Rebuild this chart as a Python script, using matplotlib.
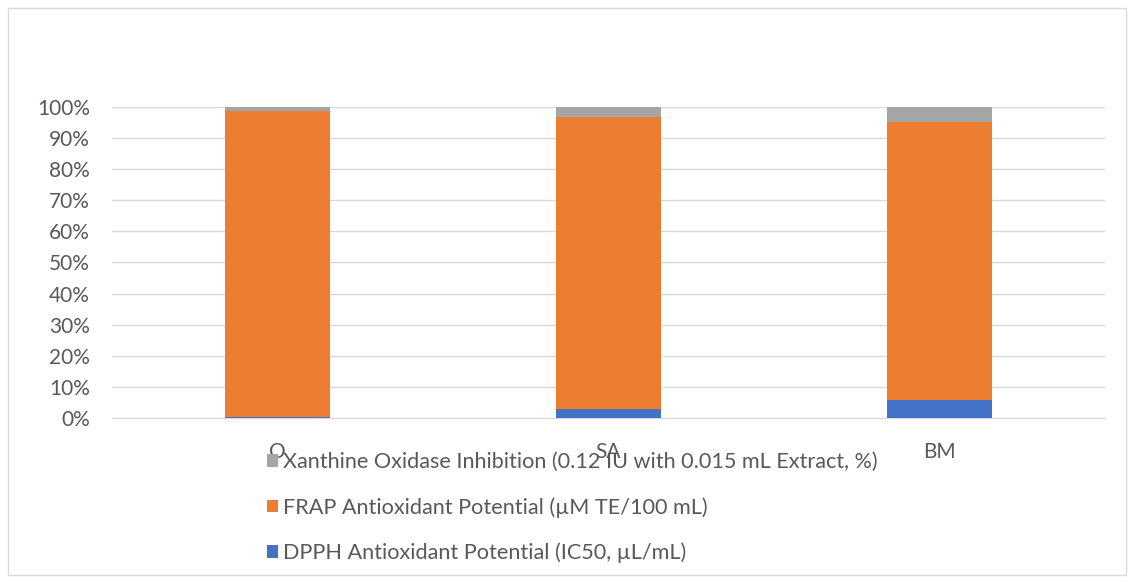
import matplotlib.pyplot as plt
from matplotlib.patches import Rectangle
import numpy as np

# data
categories = ["O", "SA", "BM"]
dpph = [0.2, 3.0, 5.9]
frap = [98.5, 93.7, 89.3]
xanthine = [1.3, 3.3, 4.8]

labels = [
    "DPPH Antioxidant Potential (IC50, µL/mL)",
    "FRAP Antioxidant Potential (µM TE/100 mL)",
    "Xanthine Oxidase Inhibition (0.12 IU with 0.015 mL Extract, %)",
]
colors = ["#4472C4", "#ED7D31", "#A5A5A5"]

plt.rcParams['font.family'] = ['Lato', 'DejaVu Sans']

fig = plt.figure(figsize=(11.34, 5.83), dpi=100)
ax = fig.add_axes([0.0988, 0.283, 0.8756, 0.5335])

x = np.arange(len(categories))
bottom = np.zeros(len(categories))
bars = []
for vals, lab, col in zip([dpph, frap, xanthine], labels, colors):
    b = ax.bar(x, vals, width=0.315, bottom=bottom, color=col, label=lab, zorder=3)
    bars.append(b)
    bottom += np.array(vals)

ax.set_xlim(-0.5, len(categories) - 0.5)
ax.set_ylim(0, 100)
ax.set_yticks(np.arange(0, 101, 10))
ax.set_yticklabels([f"{v}%" for v in range(0, 101, 10)])
ax.set_xticks(x)
ax.set_xticklabels(categories)
ax.grid(axis='y', color='#d9d9d9', linewidth=1, zorder=0)
for s in ['top', 'right', 'left']:
    ax.spines[s].set_visible(False)
ax.spines['bottom'].set_color('#d9d9d9')
ax.tick_params(axis='both', length=0, labelsize=15, colors='#595959')
ax.tick_params(axis='x', pad=17)
ax.tick_params(axis='y', pad=16)

# legend below, reversed order
leg = fig.legend(handles=bars[::-1], labels=labels[::-1], loc='upper left',
                 bbox_to_anchor=(0.226, 0.243), frameon=False, fontsize=15.6,
                 handlelength=0.5, handleheight=0.5, handletextpad=0.25,
                 labelspacing=1.15, borderpad=0)
for t in leg.get_texts():
    t.set_color('#595959')

# outer chart border
fig.patches.append(Rectangle((8 / 1134, 8 / 583), 1 - 16 / 1134, 1 - 16 / 583,
                             transform=fig.transFigure, fill=False,
                             edgecolor='#d9d9d9', linewidth=1))

fig.savefig("out.png", dpi=100)
